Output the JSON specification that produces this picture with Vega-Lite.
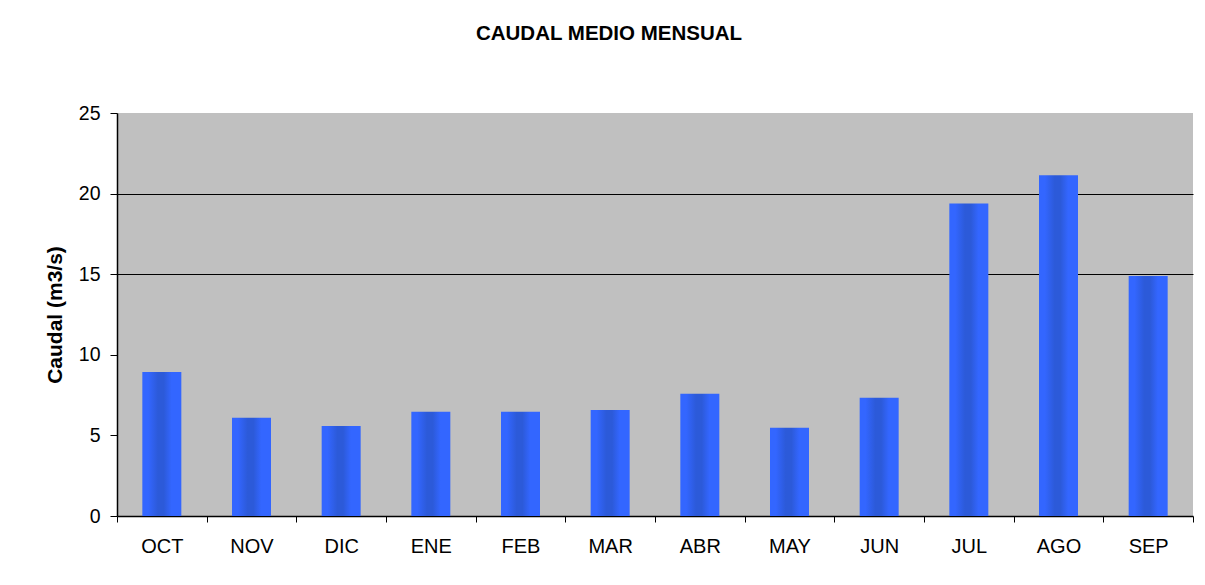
{
  "$schema": "https://vega.github.io/schema/vega-lite/v6.json",
  "width": 1076,
  "height": 403,
  "autosize": "none",
  "padding": {"left": 117, "top": 113, "right": 12, "bottom": 69},
  "background": "white",
  "title": {
    "text": "CAUDAL MEDIO MENSUAL",
    "font": "Liberation Sans",
    "fontSize": 20.5,
    "fontWeight": "bold",
    "color": "black",
    "anchor": "middle",
    "baseline": "alphabetic",
    "dx": -46,
    "offset": 43
  },
  "data": {
    "values": [
      {"mes": "OCT", "caudal": 8.94},
      {"mes": "NOV", "caudal": 6.09},
      {"mes": "DIC", "caudal": 5.59},
      {"mes": "ENE", "caudal": 6.46},
      {"mes": "FEB", "caudal": 6.46},
      {"mes": "MAR", "caudal": 6.58},
      {"mes": "ABR", "caudal": 7.58},
      {"mes": "MAY", "caudal": 5.47},
      {"mes": "JUN", "caudal": 7.33},
      {"mes": "JUL", "caudal": 19.39},
      {"mes": "AGO", "caudal": 21.14},
      {"mes": "SEP", "caudal": 14.89}
    ]
  },
  "mark": {
    "type": "bar",
    "width": {"band": 0.435},
    "color": {
      "gradient": "linear",
      "x1": 0, "x2": 1, "y1": 0, "y2": 0,
      "stops": [
        {"offset": 0, "color": "#3366FF"},
        {"offset": 0.15, "color": "#3366FF"},
        {"offset": 0.4, "color": "#2C5AD9"},
        {"offset": 0.55, "color": "#2C5AD9"},
        {"offset": 0.75, "color": "#3366FF"},
        {"offset": 1, "color": "#3366FF"}
      ]
    }
  },
  "encoding": {
    "x": {
      "field": "mes",
      "type": "nominal",
      "sort": null,
      "scale": {"paddingInner": 0, "paddingOuter": 0},
      "axis": {
        "title": null,
        "labelAngle": 0,
        "labelFont": "Liberation Sans",
        "labelFontSize": 20,
        "labelColor": "black",
        "labelPadding": 14,
        "tickSize": 6,
        "tickColor": "black",
        "tickWidth": 1,
        "tickBand": "extent",
        "domainColor": "black",
        "domainWidth": 1.5
      }
    },
    "y": {
      "field": "caudal",
      "type": "quantitative",
      "scale": {"domain": [0, 25], "nice": false},
      "axis": {
        "title": "Caudal (m3/s)",
        "titleFont": "Liberation Sans",
        "titleFontSize": 21,
        "titleFontWeight": "bold",
        "titleColor": "black",
        "titlePadding": 13,
        "values": [0, 5, 10, 15, 20, 25],
        "labelFont": "Liberation Sans",
        "labelFontSize": 19.5,
        "labelColor": "black",
        "labelPadding": 10,
        "tickSize": 7,
        "tickColor": "black",
        "domainColor": "black",
        "domainWidth": 1.5,
        "grid": true,
        "gridColor": "black",
        "gridWidth": 1.2,
        "gridOpacity": {"condition": {"test": "datum.value == 15 || datum.value == 20", "value": 1}, "value": 0}
      }
    }
  },
  "config": {
    "view": {"fill": "#C0C0C0", "stroke": null}
  }
}
